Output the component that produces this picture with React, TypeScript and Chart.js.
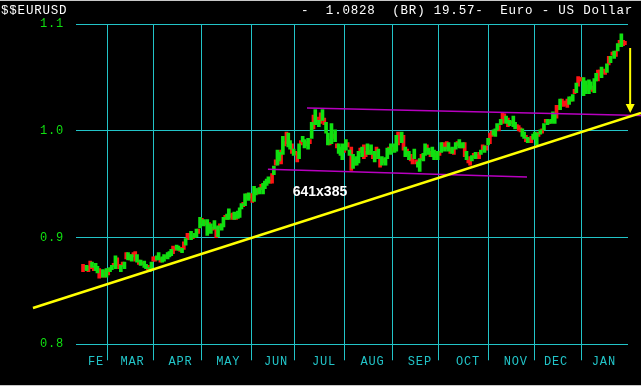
import React, { useEffect, useRef } from 'react';
import { Chart, registerables } from 'chart.js';

Chart.register(...registerables);

// ---- Data (daily bars, index = trading day) ----
const highs = [
  // Feb - Mar
  .875,.874,.874,.873,.878,.877,.873,.876,.873,.871,
  .868,.870,.869,.871,.871,.872,.874,.876,.883,.881,
  .875,.874,.877,.877,.886,.886,.884,.884,.886,.887,
  .884,.879,.879,.877,.878,.875,.874,.872,.877,.882,
  .882,.883,.886,.881,.882,.884,.883,.886,
  // Apr - May
  .887,.889,.892,.891,.893,.892,.891,.890,.896,.899,
  .904,.904,.906,.902,.904,.908,.908,.919,.918,.917,
  .916,.917,.914,.913,.910,.916,.910,.911,.913,.913,
  .919,.921,.922,.927,.922,.923,.924,.922,.925,.928,
  .932,.933,.941,.941,.942,.941,.941,.948,.946,.946,
  .947,.950,.951,
  // Jun - Aug
  .953,.955,.957,.954,.960,.967,.973,.982,.980,.982,
  .995,.990,.999,.998,.991,.988,.983,.981,.980,.988,
  .991,.995,.992,.990,.993,.992,1.008,1.015,1.020,1.013,
  1.010,1.017,1.020,1.012,1.008,.998,.992,1.007,.997,1.001,
  .988,.988,.985,.988,.983,.992,.989,.982,.985,.978,
  .974,.976,.981,.984,.985,
  // Aug - Oct
  .987,.981,.988,.982,.987,.978,.981,.985,.983,.974,
  .976,.974,.975,.984,.985,.988,.985,.988,.996,.999,
  .996,.999,.996,.985,.983,.981,.978,.974,.983,.973,
  .971,.974,.978,.979,.988,.987,.984,.981,.985,.982,
  .979,.981,.981,.989,.989,.985,.990,.989,.984,.985,
  .983,.989,.990,.992,.988,.989,
  // Oct - Dec
  .989,.981,.973,.976,.977,.979,.980,.978,.980,.982,
  .987,.986,.986,.993,.998,1.000,1.001,1.002,1.007,1.005,
  1.011,1.017,1.016,1.014,1.012,1.010,1.009,1.014,1.008,1.006,
  1.005,1.003,1.002,.999,.996,.994,.993,.995,.997,.999,
  .998,.999,1.001,1.002,1.007,1.011,1.011,1.010,1.011,1.018,
  // Dec - Jan
  1.016,1.024,1.024,1.030,1.030,1.028,1.028,1.030,1.032,1.032,
  1.034,1.039,1.045,1.051,1.050,1.050,1.050,1.047,1.043,1.048,
  1.046,1.042,1.049,1.054,1.057,1.057,1.060,1.058,1.057,1.063,
  1.070,1.070,1.074,1.075,1.075,1.082,1.085,1.091,1.085,1.084,
];

const lows = [
  .868,.870,.869,.868,.871,.872,.869,.869,.867,.862,
  .863,.863,.863,.863,.865,.868,.870,.873,.871,.874,
  .871,.868,.873,.871,.880,.879,.879,.878,.882,.878,
  .877,.875,.874,.875,.872,.871,.870,.868,.871,.878,
  .878,.879,.879,.877,.877,.878,.881,.880,
  .882,.883,.885,.888,.889,.888,.887,.886,.889,.893,
  .898,.900,.898,.899,.900,.901,.904,.909,.913,.911,
  .912,.902,.907,.904,.907,.908,.900,.901,.909,.907,
  .910,.917,.917,.917,.919,.917,.917,.917,.918,.919,
  .927,.929,.930,.936,.935,.937,.933,.934,.940,.941,
  .941,.945,.941,
  .946,.949,.951,.951,.951,.959,.968,.968,.972,.969,
  .978,.986,.988,.985,.983,.979,.977,.978,.971,.974,
  .987,.990,.984,.986,.983,.988,.993,1.002,1.006,1.010,
  1.004,1.007,1.010,1.006,.998,.987,.987,.988,.993,.990,
  .984,.979,.977,.973,.980,.982,.985,.977,.963,.965,
  .968,.968,.970,.980,.976,
  .974,.976,.978,.978,.978,.974,.971,.974,.974,.966,
  .968,.970,.968,.974,.980,.978,.981,.980,.981,.987,
  .992,.989,.982,.976,.978,.973,.972,.969,.974,.969,
  .966,.962,.973,.972,.977,.981,.978,.976,.976,.973,
  .975,.973,.977,.980,.984,.981,.983,.981,.979,.979,
  .978,.983,.986,.984,.984,.984,
  .976,.973,.970,.968,.972,.975,.974,.974,.974,.978,
  .982,.980,.982,.987,.988,.995,.996,.995,1.001,1.000,
  1.006,1.007,1.008,1.007,1.004,1.005,1.007,1.004,1.002,1.003,
  1.000,.999,.995,.993,.990,.989,.989,.989,.992,.994,
  .987,.995,.997,.998,1.001,1.008,1.006,1.007,1.007,1.009,
  1.007,1.012,1.020,1.020,1.025,1.023,1.024,1.022,1.025,1.028,
  1.028,1.035,1.036,1.042,1.047,1.047,1.033,1.035,1.038,1.035,
  1.039,1.037,1.036,1.047,1.047,1.052,1.050,1.054,1.053,1.055,
  1.062,1.064,1.071,1.068,1.070,1.075,1.079,1.079,1.080,1.081,
];

// R = red (down) bar, G = green bar
const barColors =
  "RRGRRGRGGR" + "RGRGRGGRGR" + "RGRGRGRGRR" + "GRGRGGRGGR" + "RGGRGGRG" +
  "GGRRG" + "G" + "RGRGRRGR" + "G" + "GRGRGRGRGRGRGRGGRGGRRGR" + "G" + "GGRGRGRRGGRGRG" +
  "GGGRRGRGGR" + "GRRGGRGRRG" + "RGGRGRGRGR" + "GRGRGGRGRG" + "RGGGRGRGRG" + "RGGRG" +
  "RRGRGRGRGR" + "GRGGRGRGGR" + "RGRGRGRRGR" + "GGRGGRGRGG" + "RGRGRGRGRG" + "RGRGRG" +
  "RGRRGRGRRG" + "RGRGRRGGGR" + "GRRGRGRGGR" + "RRGGRGRRGG" + "GRGRGRGRGG" +
  "GRRGRRRRGR" + "GRGRRRGGRG" + "GRGGRRGRRG" + "RGRGRGRGRR";

// month boundaries (in trading-day index) and label positions
const monthBoundaries = [13.6, 39.0, 65.9, 93.5, 117.4, 145.1, 171.9, 197.3, 225.2, 250.7, 276.8];
const monthLabels = ['FE', 'MAR', 'APR', 'MAY', 'JUN', 'JUL', 'AUG', 'SEP', 'OCT', 'NOV', 'DEC', 'JAN'];
const monthLabelPos = [7.2, 27.5, 54.1, 80.7, 107.2, 133.8, 160.8, 187.1, 213.8, 240.3, 262.7, 289.3];
const yTicks = [0.8, 0.9, 1.0, 1.1];

// drawn studies (index, price)
const trendLine = [[-27.8, 0.834], [309.9, 1.017]];
const channelUpper = [[124.4, 1.0216], [309.9, 1.0145]];
const channelLower = [[102.7, 0.9641], [246.6, 0.9569]];
const arrowLine = [[303.9, 1.0778], [303.9, 1.0169]];
const watermark = { x: 131.6, y: 0.943, text: '641x385' };

const titleLeft = '$$EURUSD';
const titleRight = '-  1.0828  (BR) 19.57-  Euro - US Dollar';

const X_MIN = -3.9;
const X_MAX = 302.7;
const CYAN = '#22c4c8';
const GREEN = '#10e010';
const RED = '#ff1414';
const MONO = '"Liberation Mono", "DejaVu Sans Mono", monospace';

const overlayPlugin = {
  id: 'overlay',
  beforeDraw(chart: any) {
    (chart.ctx as any).letterSpacing = '0.8px';
  },
  afterDatasetsDraw(chart: any) {
    const { ctx } = chart;
    const xs = chart.scales.x;
    const ys = chart.scales.y;
    const P = (p: number[]) => [xs.getPixelForValue(p[0]), ys.getPixelForValue(p[1])];
    const seg = (pts: number[][]) => {
      const a = P(pts[0]);
      const b = P(pts[1]);
      ctx.beginPath();
      ctx.moveTo(a[0], a[1]);
      ctx.lineTo(b[0], b[1]);
      ctx.stroke();
    };
    ctx.save();
    ctx.lineCap = 'butt';
    ctx.strokeStyle = '#b800c0';
    ctx.lineWidth = 1.6;
    seg(channelUpper);
    seg(channelLower);

    ctx.strokeStyle = '#ffff00';
    ctx.lineWidth = 2.5;
    seg(trendLine);

    // arrow
    const a = P(arrowLine[0]);
    const b = P(arrowLine[1]);
    ctx.lineWidth = 2;
    ctx.beginPath();
    ctx.moveTo(a[0], a[1]);
    ctx.lineTo(b[0], b[1] - 7);
    ctx.stroke();
    ctx.fillStyle = '#ffff00';
    ctx.beginPath();
    ctx.moveTo(b[0] - 4.5, b[1] - 9);
    ctx.lineTo(b[0] + 4.5, b[1] - 9);
    ctx.lineTo(b[0], b[1]);
    ctx.closePath();
    ctx.fill();

    // watermark text
    (ctx as any).letterSpacing = '0px';
    const w = P([watermark.x, watermark.y]);
    ctx.fillStyle = '#ffffff';
    ctx.font = 'bold 14px "Liberation Sans", Arial, sans-serif';
    ctx.textAlign = 'center';
    ctx.textBaseline = 'middle';
    ctx.fillText(watermark.text, w[0], w[1]);

    // header
    (ctx as any).letterSpacing = '0.8px';
    ctx.font = '12.5px ' + MONO;
    ctx.textBaseline = 'alphabetic';
    ctx.textAlign = 'left';
    ctx.fillText(titleLeft, 1, 14);
    ctx.textAlign = 'right';
    ctx.fillText(titleRight, 633, 14);
    ctx.restore();
  },
};

export default function App() {
  const canvasRef = useRef<HTMLCanvasElement | null>(null);

  useEffect(() => {
    const canvas = canvasRef.current;
    if (!canvas) return;
    const greenData: any[] = [];
    const redData: any[] = [];
    highs.forEach((h, i) => {
      const pt = { x: i, y: [lows[i], h] };
      if (barColors[i] === 'R') redData.push(pt);
      else greenData.push(pt);
    });

    const chart = new Chart(canvas, {
      type: 'bar',
      data: {
        datasets: [
          { data: greenData, backgroundColor: GREEN, barThickness: 3, grouped: false, borderWidth: 0 } as any,
          { data: redData, backgroundColor: RED, barThickness: 3, grouped: false, borderWidth: 0 } as any,
        ],
      },
      options: {
        responsive: false,
        animation: false,
        devicePixelRatio: 1,
        events: [],
        layout: { padding: { left: 0, right: 13, top: 24.3, bottom: 0 } },
        plugins: { legend: { display: false }, tooltip: { enabled: false }, title: { display: false } },
        scales: {
          x: {
            type: 'linear',
            min: X_MIN,
            max: X_MAX,
            offset: false,
            afterBuildTicks: (s: any) => {
              s.ticks = [...monthBoundaries, ...monthLabelPos]
                .sort((p, q) => p - q)
                .map((v) => ({ value: v }));
            },
            afterFit: (s: any) => {
              s.height = 41.7;
            },
            grid: {
              offset: false,
              drawTicks: true,
              tickLength: 16,
              lineWidth: 1,
              color: (c: any) =>
                c.tick && monthBoundaries.includes(c.tick.value) ? CYAN : 'rgba(0,0,0,0)',
            },
            border: { display: false },
            ticks: {
              autoSkip: false,
              maxRotation: 0,
              minRotation: 0,
              padding: -6,
              color: CYAN,
              font: { family: MONO, size: 12 },
              callback: (v: any) => {
                const k = monthLabelPos.indexOf(Number(v));
                return k >= 0 ? monthLabels[k] : '';
              },
            },
          },
          y: {
            type: 'linear',
            min: 0.8,
            max: 1.1,
            afterBuildTicks: (s: any) => {
              s.ticks = yTicks.map((v) => ({ value: v }));
            },
            afterFit: (s: any) => {
              s.width = 76;
            },
            grid: { color: CYAN, drawTicks: false, lineWidth: 1 },
            border: { display: false },
            ticks: {
              padding: 12,
              color: GREEN,
              font: { family: MONO, size: 12 },
              callback: (v: any) => Number(v).toFixed(1),
            },
          },
        },
      } as any,
      plugins: [overlayPlugin],
    });
    return () => chart.destroy();
  }, []);

  return (
    <div
      style={{
        position: 'fixed',
        left: 0,
        top: 0,
        width: 641,
        height: 386,
        background: '#000',
        overflow: 'hidden',
      }}
    >
      <canvas ref={canvasRef} width={641} height={386} style={{ display: 'block' }} />
      <div style={{ position: 'absolute', left: 0, top: 0, width: 641, height: 1, background: '#c8c8c8' }} />
      <div style={{ position: 'absolute', left: 0, top: 385, width: 641, height: 1, background: '#c8c8c8' }} />
    </div>
  );
}
